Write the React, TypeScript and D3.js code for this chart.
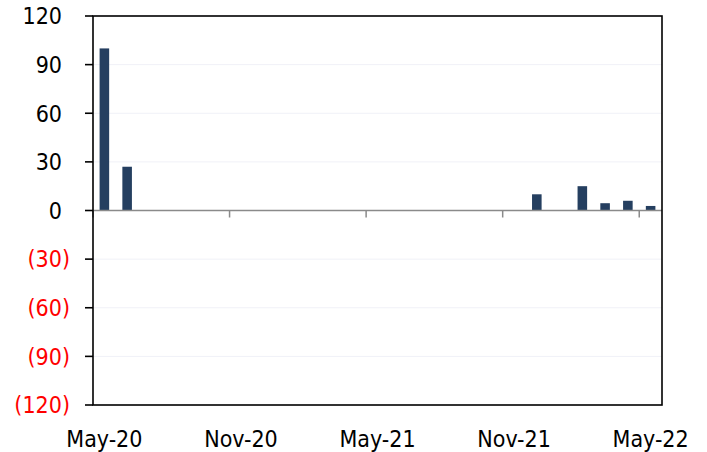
import React from "react";
import * as d3 from "d3";

// Monthly categories, May-20 through May-22
const months: string[] = [
  "May-20", "Jun-20", "Jul-20", "Aug-20", "Sep-20", "Oct-20", "Nov-20", "Dec-20",
  "Jan-21", "Feb-21", "Mar-21", "Apr-21", "May-21", "Jun-21", "Jul-21", "Aug-21",
  "Sep-21", "Oct-21", "Nov-21", "Dec-21", "Jan-22", "Feb-22", "Mar-22", "Apr-22", "May-22",
];

// Monthly values
const values: number[] = [
  100, 27, 0.3, 0, 0, 0, 0.3, 0,
  0, 0, 0, 0, 0, 0.2, 0.2, 0,
  0, 0, 0, 10, -0.3, 15, 4.5, 6, 2.8,
];

// Labelled months on the x axis
const xTickLabels: string[] = ["May-20", "Nov-20", "May-21", "Nov-21", "May-22"];

// Y axis ticks
const yTicks: number[] = [120, 90, 60, 30, 0, -30, -60, -90, -120];

const W = 707;
const H = 452;
const left = 93;
const right = 662;
const top = 16;
const bottom = 405;

const FONT = "'DejaVu Sans Condensed', 'DejaVu Sans', Tahoma, sans-serif";
const FONT_SIZE = 23;

function fmt(v: number): string {
  return v < 0 ? `(${Math.abs(v)})` : `${v}`;
}

export default function App() {
  const x = d3
    .scaleBand<string>()
    .domain(months)
    .range([left, right])
    .paddingInner(0.58)
    .paddingOuter(0.29);

  const y = d3.scaleLinear().domain([-120, 120]).range([bottom, top]);

  const step = x.step();
  const bandStart = (m: string) => (x(m) as number) - (step * x.paddingInner()) / 2;
  const y0 = y(0);

  return (
    <svg width={W} height={H} style={{ position: "absolute", left: 0, top: 0, background: "#fff" }}>
      {/* faint horizontal gridlines */}
      {yTicks.map((t) => (
        <line key={`g${t}`} x1={left} x2={right} y1={y(t)} y2={y(t)} stroke="#f0f1f7" strokeWidth={1} />
      ))}

      {/* bars */}
      {values.map((v, i) => {
        const m = months[i];
        const yt = y(Math.max(0, v));
        const yb = y(Math.min(0, v));
        return (
          <rect
            key={m}
            x={x(m)}
            y={yt}
            width={x.bandwidth()}
            height={Math.max(0, yb - yt)}
            fill="#253f60"
          />
        );
      })}

      {/* zero axis line and x ticks */}
      <line x1={left} x2={right} y1={y0} y2={y0} stroke="#8a8a8a" strokeWidth={1.5} />
      {xTickLabels.map((m) => {
        const tx = bandStart(m);
        return <line key={`xt${m}`} x1={tx} x2={tx} y1={y0} y2={y0 + 7} stroke="#8a8a8a" strokeWidth={1.5} />;
      })}

      {/* frame */}
      <rect x={left} y={top} width={right - left} height={bottom - top} fill="none" stroke="#000" strokeWidth={1.6} />

      {/* y ticks and labels */}
      {yTicks.map((t) => (
        <g key={`yt${t}`}>
          <line x1={85} x2={left} y1={y(t)} y2={y(t)} stroke="#000" strokeWidth={1.6} />
          <text
            x={t < 0 ? 70 : 62}
            y={y(t)}
            dy="0.36em"
            textAnchor="end"
            fontFamily={FONT}
            fontSize={FONT_SIZE}
            fill={t < 0 ? "#ff0000" : "#000"}
          >
            {fmt(t)}
          </text>
        </g>
      ))}

      {/* x labels */}
      {xTickLabels.map((m) => (
        <text
          key={`xl${m}`}
          x={(x(m) as number) + x.bandwidth() / 2}
          y={446.5}
          textAnchor="middle"
          fontFamily={FONT}
          fontSize={FONT_SIZE}
          fill="#000"
        >
          {m}
        </text>
      ))}
    </svg>
  );
}
